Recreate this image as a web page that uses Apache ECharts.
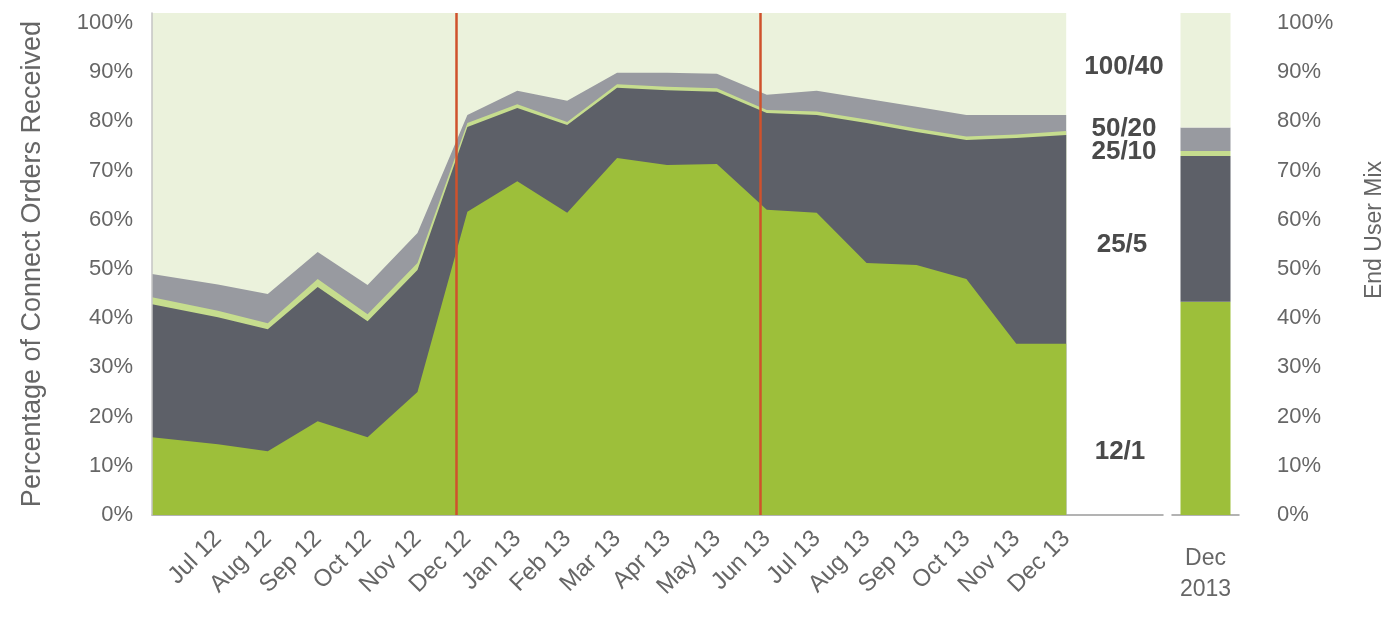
<!DOCTYPE html>
<html>
<head>
<meta charset="utf-8">
<script src="https://cdn.jsdelivr.net/npm/echarts@6/dist/echarts.min.js"></script>
<style>
html,body{margin:0;padding:0;background:#fff;}
#c{width:1387px;height:624px;}
</style>
</head>
<body>
<div id="c"></div>
<script>
// Month labels (tick labels of the area chart)
const months = ['Jul 12','Aug 12','Sep 12','Oct 12','Nov 12','Dec 12','Jan 13','Feb 13','Mar 13','Apr 13','May 13','Jun 13','Jul 13','Aug 13','Sep 13','Oct 13','Nov 13','Dec 13'];
// x position (in month units) of the left edge of the plot, where the area starts
const edgeX = -1.32;
// Series values (% of connect orders). First value = left plot edge, then Jul 12 .. Dec 13
const s12_1   = [15.5,14.1,12.7,18.7,15.5,24.5,60.4,66.5,60.2,71.1,69.7,69.9,60.8,60.2,50.2,49.8,47.0,34.1,34.1];
const s25_5   = [26.5,25.3,24.3,26.7,23.1,24.3,16.9,14.6,17.5,14.0,14.9,14.4,19.3,19.5,27.9,26.5,27.7,41.0,41.6];
const s25_10  = [1.4,1.3,1.2,1.6,1.4,1.4,0.8,0.7,0.6,0.7,0.7,0.7,0.6,0.7,0.7,0.7,0.7,0.7,0.8];
const s50_20  = [4.6,5.2,5.8,5.4,5.8,6.0,1.6,2.7,4.2,2.3,2.8,2.9,3.0,4.1,4.1,4.3,4.3,3.9,3.2];
const s100_40 = [52.0,54.1,56.0,47.6,54.2,43.8,20.3,15.5,17.5,11.9,11.9,12.1,16.3,15.5,17.1,18.7,20.3,20.3,20.3];
// Period markers (month units)
const markers = [4.77, 10.86];
// End user mix, Dec 2013
const mixCategory = ['Dec\n2013'];
const mix = {'12/1': 42.5, '25/5': 29.0, '25/10': 1.0, '50/20': 4.7, '100/40': 22.8};
// Tick labels
const tickValues = [0,10,20,30,40,50,60,70,80,90,100];

const tiers = ['12/1','25/5','25/10','50/20','100/40'];
const tierData = {'12/1': s12_1, '25/5': s25_5, '25/10': s25_10, '50/20': s50_20, '100/40': s100_40};
const colors = {'12/1':'#9dbf3a','25/5':'#5d6068','25/10':'#c6dd8e','50/20':'#989aa0','100/40':'#ebf2dc'};
const xs = [edgeX].concat(months.map((m,i)=>i));

// cumulative tops (stack built here; each band is drawn as area to 0, upper tiers first)
const cum = {};
let run = xs.map(()=>0);
tiers.forEach(t => { run = run.map((v,i)=> v + tierData[t][i]); cum[t] = run.slice(); });

const FONT = "'Liberation Sans', Arial, sans-serif";
const chart = echarts.init(document.getElementById('c'), null, {renderer:'canvas'});

const drawOrder = tiers.slice().reverse();
const areaSeries = drawOrder.map((t, k) => ({
  name: t, type: 'line', xAxisIndex: 0, yAxisIndex: 0,
  showSymbol: false, symbol: 'none', lineStyle: {width: 0}, smooth: false,
  areaStyle: {color: colors[t], opacity: 1, origin: 'start'},
  z: 2 + k,
  data: cum[t].map((v,i)=>[xs[i], v]),
  markLine: k === drawOrder.length - 1 ? {
    silent: true, z: 30, symbol: ['none','none'], label: {show:false},
    lineStyle: {color:'#cf522c', width: 2.5, type:'solid'},
    data: markers.map(m => ({xAxis: m}))
  } : undefined
}));

const barSeries = tiers.map(t => ({
  name: 'mix ' + t, type: 'bar', stack: 'mix', xAxisIndex: 1, yAxisIndex: 2,
  barWidth: 50, itemStyle: {color: colors[t]},
  data: [mix[t]]
}));

const tickFmt = v => (tickValues.indexOf(v) >= 0 ? v + '%' : '');

const labelPos = {'100/40':[1124,67],'50/20':[1124,129],'25/10':[1124,152],'25/5':[1122,245],'12/1':[1120,452]};

chart.setOption({
  animation: false,
  textStyle: {fontFamily: FONT},
  grid: [
    {left: 152, right: 224, top: 13, bottom: 109},
    {left: 1172, width: 75, top: 13, bottom: 109}
  ],
  xAxis: [
    {type:'value', gridIndex:0, min: edgeX, max: 18.94,
     axisLine:{show:true, onZero:false, lineStyle:{color:'#9a9a9a', width:1.5}},
     axisTick:{show:false}, splitLine:{show:false},
     axisLabel:{customValues: months.map((m,i)=>i), formatter: v => months[Math.round(v)] || '',
       rotate: 45, color:'#666', fontSize: 24, margin: 20, fontFamily: FONT}},
    {type:'category', gridIndex:1, data: mixCategory,
     axisLine:{show:true, lineStyle:{color:'#9a9a9a', width:1.5}},
     axisTick:{show:false},
     axisLabel:{color:'#666', fontSize: 23, lineHeight: 31, margin: 28, fontFamily: FONT}}
  ],
  yAxis: [
    {type:'value', gridIndex:0, min:0, max:100, show:true, z: 40,
     axisLine:{show:true, onZero:false, lineStyle:{color:'#c4c4c4', width:1.5}},
     axisTick:{show:false}, axisLabel:{show:false}, splitLine:{show:false}},
    {type:'value', gridIndex:0, min:0, max:102, interval:10, position:'left',
     axisLine:{show:false}, axisTick:{show:false}, splitLine:{show:false},
     axisLabel:{formatter: tickFmt, color:'#666', fontSize: 22, margin: 19, fontFamily: FONT},
     name:'Percentage of Connect Orders Received', nameLocation:'middle', nameRotate: 90, nameGap: 106,
     nameTextStyle:{color:'#666', fontSize: 27, fontFamily: FONT}},
    {type:'value', gridIndex:1, min:0, max:100, show:false},
    {type:'value', gridIndex:1, min:0, max:102, interval:10, position:'right',
     axisLine:{show:false}, axisTick:{show:false}, splitLine:{show:false},
     axisLabel:{formatter: tickFmt, color:'#666', fontSize: 22, margin: 38, fontFamily: FONT},
     name:'End User Mix', nameLocation:'middle', nameRotate: 90, nameGap: 124,
     nameTextStyle:{color:'#666', fontSize: 23, fontFamily: FONT, padding:[0,0,0,68]}}
  ],
  graphic: tiers.map(t => ({
    type:'text', x: labelPos[t][0], y: labelPos[t][1], z: 10,
    style:{text: t, fill:'#4a4a4a', font: "bold 26px " + FONT, textAlign:'center', textVerticalAlign:'middle'}
  })),
  series: areaSeries.concat(barSeries)
});
</script>
</body>
</html>
